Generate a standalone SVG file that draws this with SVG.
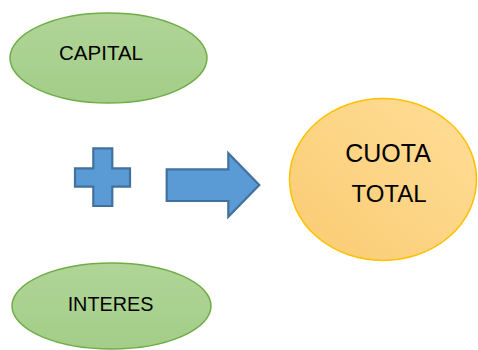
<svg xmlns="http://www.w3.org/2000/svg" width="478" height="350" viewBox="0 0 478 350">
<defs>
<linearGradient id="gGreen" x1="0" y1="0" x2="0" y2="1">
<stop offset="0" stop-color="#B0D597"/>
<stop offset="1" stop-color="#A3CD88"/>
</linearGradient>
<linearGradient id="gGold" x1="1" y1="0" x2="0" y2="1">
<stop offset="0" stop-color="#FFDE98"/>
<stop offset="1" stop-color="#FACB72"/>
</linearGradient>
<style>
.green{fill:url(#gGreen);stroke:#70AD47;stroke-width:1.5}
.gold{fill:url(#gGold);stroke:#FFC000;stroke-width:1.5}
.blue{fill:#5B9BD5;stroke:#41719C;stroke-width:2.2;stroke-linejoin:miter}
.lbl{font-family:"Liberation Sans",Arial,sans-serif;fill:#000;text-anchor:middle}
</style>
</defs>
<rect width="478" height="350" fill="#FFFFFF"/>
<g id="capital">
<ellipse class="green" cx="108.5" cy="58" rx="98.5" ry="45"/>
<text class="lbl" x="101" y="60" font-size="20.5">CAPITAL</text>
</g>
<g id="interes">
<ellipse class="green" cx="111.5" cy="306" rx="99.5" ry="43"/>
<text class="lbl" x="110.5" y="311" font-size="19.8">INTERES</text>
</g>
<g id="cuota-total">
<ellipse class="gold" cx="383" cy="179.5" rx="93.5" ry="81"/>
<text class="lbl" x="388" y="161.5" font-size="25">CUOTA</text>
<text class="lbl" x="389" y="201.5" font-size="24">TOTAL</text>
</g>
<g id="plus">
<path class="blue" d="M93.3,148.3 H112.3 V168.3 H130 V186.7 H112.3 V206 H93.3 V186.7 H75 V168.3 H93.3 Z"/>
</g>
<g id="connectors">
<path class="blue" d="M166.7,169.3 H228.3 V153.3 L259.3,185 L228.3,216.7 V201 H166.7 Z"/>
</g>
</svg>
